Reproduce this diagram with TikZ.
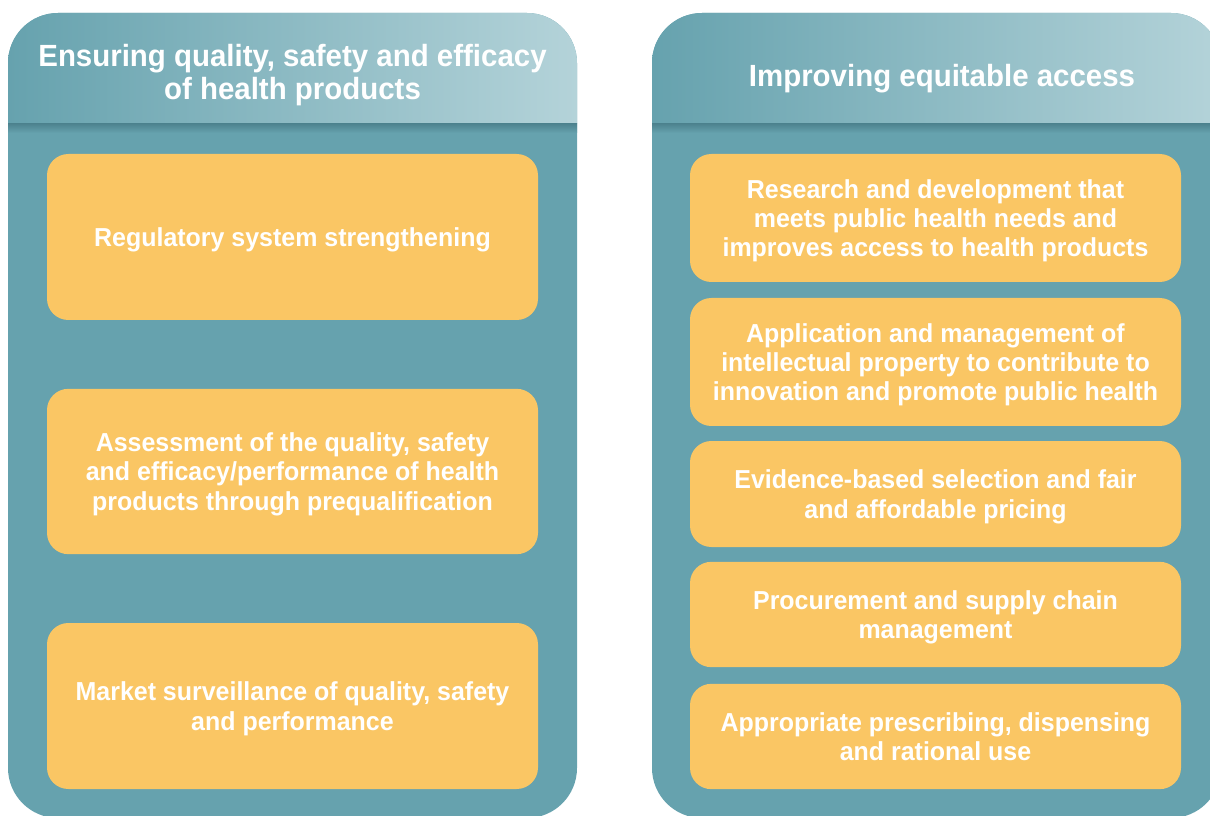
\documentclass[tikz,border=0pt]{standalone}
\usepackage{fontspec}
\newfontfamily\panelfont[FakeStretch=0.96]{Liberation Sans}
\definecolor{panelteal}{RGB}{102,162,174}
\definecolor{headlight}{RGB}{180,211,217}
\definecolor{panelshadow}{RGB}{78,132,144}
\definecolor{boxyellow}{RGB}{250,198,100}
\begin{document}
\begin{tikzpicture}
[x=0.75pt,y=-0.75pt,
  panelDecorate/.style={fill=panelteal,rounded corners=37.5pt},
  headDecorate/.style={text=white,align=center,inner sep=0pt,text depth=0pt,
    font=\panelfont\bfseries\fontsize{23}{25}\selectfont},
  boxDecorate/.style={shape=rectangle,fill=boxyellow,rounded corners=16pt,
    text=white,align=center,inner sep=0pt,minimum width=368.25pt,text depth=-5pt,
    font=\panelfont\bfseries\fontsize{19.5}{22}\selectfont}]
\useasboundingbox (0,0) rectangle (1210,816);
%% panels
\foreach \xl/\xr in {8/577, 652/1221}
{
  \fill[panelDecorate] (\xl,13) rectangle (\xr,818);
  \begin{scope}
    \clip[rounded corners=37.5pt] (\xl,13) rectangle (\xr,818);
    \shade[left color=panelteal,right color=headlight] (\xl,13) rectangle (\xr,124);
    \shade[top color=panelshadow,bottom color=panelteal] (\xl,124) rectangle (\xr,133);
  \end{scope}
}
%% headings
\node (qualityhead) at (292.5,72) [headDecorate]
  {Ensuring quality, safety and efficacy\\of health products};
\node (accesshead) at (942,75) [headDecorate] {Improving equitable access};
%% boxes
\foreach \nodename/\x/\y/\h/\txt in {
  regulatory/292.5/237/124.5pt/{Regulatory system strengthening},
  prequal/292.5/471.5/124pt/{Assessment of the quality, safety\\and efficacy/performance of health\\products through prequalification},
  surveillance/292.5/706/124.5pt/{Market surveillance of quality, safety\\and performance},
  research/935.5/218/96pt/{Research and development that\\meets public health needs and\\improves access to health products},
  property/935.5/362/96pt/{Application and management of\\intellectual property to contribute to\\innovation and promote public health},
  selection/935.5/494/79.5pt/{Evidence-based selection and fair\\and affordable pricing},
  procurement/935.5/614.5/79pt/{Procurement and supply chain\\management},
  prescribing/935.5/736.5/79pt/{Appropriate prescribing, dispensing\\and rational use}}
{
  \node (\nodename) at (\x,\y) [boxDecorate,minimum height=\h] {\txt};
}
\end{tikzpicture}
\end{document}
